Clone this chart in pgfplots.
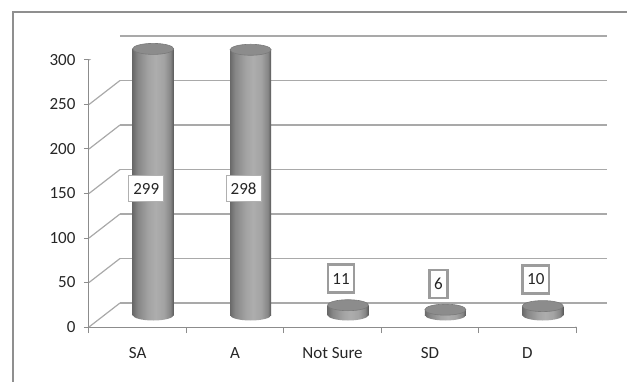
\documentclass[border=0pt]{standalone}
\usepackage{pgfplots}
\pgfplotsset{compat=1.18}
\usepackage{pgfplotstable}
\usepackage{fontspec}
\setmainfont{Carlito}
\usetikzlibrary{shapes.geometric}

\definecolor{gridc}{HTML}{A9A9A9}
\definecolor{axisc}{HTML}{8C8C8C}
\definecolor{framec}{HTML}{8F8F8F}
\definecolor{textc}{HTML}{262626}
\definecolor{c0}{HTML}{6A6A6A}
\definecolor{c1}{HTML}{868686}
\definecolor{c2}{HTML}{A3A3A3}
\definecolor{c3}{HTML}{ADADAD}
\definecolor{c4}{HTML}{585858}
\definecolor{topc}{HTML}{8C8C8C}
\definecolor{topedge}{HTML}{7A7A7A}
\definecolor{boxthin}{HTML}{B0B0B0}
\definecolor{boxthick}{HTML}{9C9C9C}

% left-to-right shading of the cylinder body (the path maps onto 25bp..75bp)
\pgfdeclarehorizontalshading{cylbody}{100bp}{%
  color(0bp)=(c0); color(25bp)=(c0); color(31bp)=(c1); color(44bp)=(c2);
  color(53bp)=(c3); color(63bp)=(c2); color(71bp)=(c1); color(75bp)=(c4);
  color(100bp)=(c4)}

% responses per category; ly = height of the value label
\pgfplotstableread{
x v   ly
0 299 142
1 298 142
2 11  41
3 6   35
4 10  40
}\votes

\pgfplotsset{
  /pgf/number format/assume math mode=true,
  plane/.style={scale only axis, width=487pt, height=267pt,
    xmin=-0.5, xmax=4.5, ymin=0, ymax=300},
}
\tikzset{
  disc/.style={ellipse, minimum width=41pt, minimum height=11pt,
    inner sep=0pt, anchor=center},
  valbox/.style={anchor=center, xshift=-7pt, fill=white, text=textc,
    inner xsep=4.5pt, inner ysep=7.5pt, text height=11pt, text depth=0pt},
}

\begin{document}
\begin{tikzpicture}[font=\fontsize{17}{20}\selectfont]
\path[use as bounding box] (-89pt,-54pt) rectangle (538pt,327pt);
\draw[framec, line width=1.5pt] (-76pt,-60pt) -- (-76pt,315pt) -- (545pt,315pt);

% back wall with horizontal grid lines
\begin{axis}[plane, at={(31pt,24pt)},
  axis line style={draw=none}, xtick=\empty,
  ytick={0,50,...,300}, yticklabels={}, major tick length=0pt,
  ymajorgrids, grid style={gridc, line width=1.2pt}]
\end{axis}

% front plane: axis lines, ticks, labels and the side edges of the wall
\begin{axis}[plane,
  axis lines*=left, axis line style={axisc, line width=1pt},
  tick align=outside, tick style={axisc, line width=1pt},
  major tick length=5pt, minor tick length=6pt,
  xtick={0,...,4}, xticklabels={SA,A,Not Sure,SD,D},
  major x tick style={draw=none},
  minor xtick={-0.5,0.5,1.5,2.5,3.5,4.5},
  ytick={0,50,...,300},
  xticklabel style={yshift=-12pt},
  yticklabel style={xshift=-5pt},
  ticklabel style={text=textc}]
\pgfplotsinvokeforeach{0,50,100,150,200,250,300}{
  \draw[gridc, line width=1.2pt] (axis cs:-0.5,#1) -- ++(31pt,24pt);}
\draw[gridc, line width=1.2pt] (axis cs:4.5,0) -- ++(31pt,24pt);
\end{axis}

% cylinders, set halfway into the depth
\begin{axis}[plane, at={(15.5pt,12pt)}, hide axis]
% rounded bottoms
\addplot[draw=none, nodes near coords={},
  every node near coord/.style={disc, shade, shading=cylbody}]
  table[x=x, y expr=0] {\votes};
% bodies, one plot per category so each gets its own shading
\pgfplotsinvokeforeach{0,1,2,3,4}{
  \addplot[ybar, bar width=41pt, bar shift=0pt, draw=none, shade, shading=cylbody,
    restrict x to domain=#1:#1]
    table[x=x, y=v] {\votes};
}
% tops
\addplot[draw=none, nodes near coords={},
  every node near coord/.style={disc, fill=topc, draw=topedge, line width=0.6pt}]
  table[x=x, y=v] {\votes};
% value labels
\addplot[draw=none, point meta=explicit, nodes near coords,
  skip coords between index={2}{5},
  every node near coord/.style={valbox, draw=boxthin, line width=0.8pt}]
  table[x=x, y=ly, meta=v] {\votes};
\addplot[draw=none, point meta=explicit, nodes near coords,
  skip coords between index={0}{2},
  every node near coord/.style={valbox, draw=boxthick, line width=2.6pt,
    inner ysep=8.5pt}]
  table[x=x, y=ly, meta=v] {\votes};
\end{axis}
\end{tikzpicture}
\end{document}
